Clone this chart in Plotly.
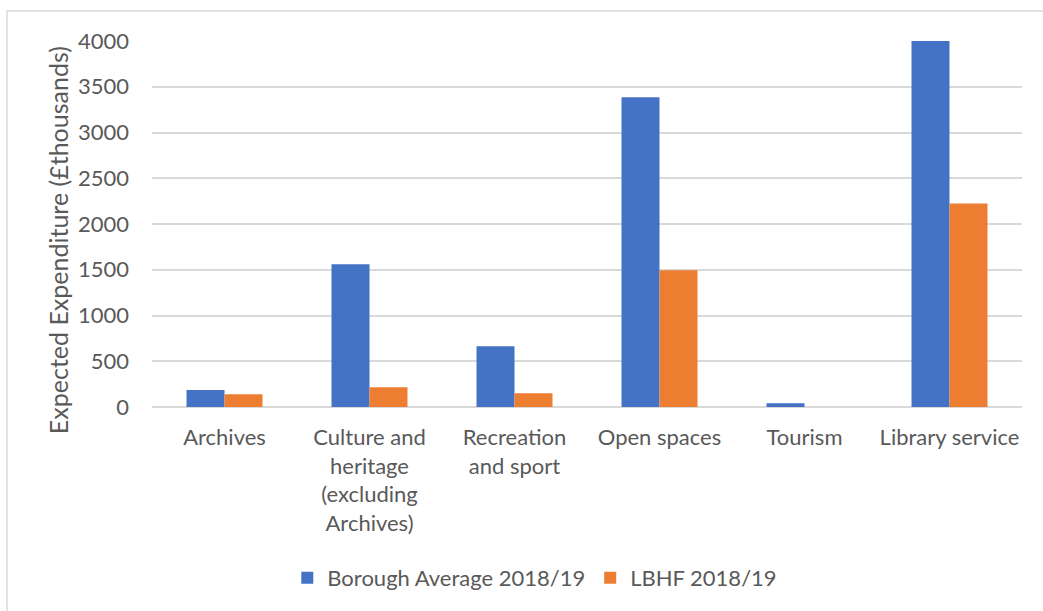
import plotly.graph_objects as go

categories = ["Archives", "Culture and<br>heritage<br>(excluding<br>Archives)", "Recreation<br>and sport",
              "Open spaces", "Tourism", "Library service"]
borough_avg = [185, 1560, 665, 3385, 40, 4010]
lbhf = [140, 215, 150, 1495, 0, 2225]
y_ticks = [0, 500, 1000, 1500, 2000, 2500, 3000, 3500, 4000]

FONT = "Lato"
TXT = "#595959"

fig = go.Figure()
fig.add_trace(go.Bar(x=categories, y=borough_avg, name="Borough Average 2018/19",
                     marker=dict(color="#4472C4", line=dict(width=0))))
fig.add_trace(go.Bar(x=categories, y=lbhf, name="LBHF 2018/19",
                     marker=dict(color="#ED7D31", line=dict(width=0))))

fig.update_layout(
    width=1043, height=611,
    margin=dict(l=152, r=21, t=41, b=204),
    paper_bgcolor="white", plot_bgcolor="white",
    barmode="group", bargap=0.476, bargroupgap=0,
    font=dict(family=FONT, size=22, color=TXT),
    showlegend=True,
    legend=dict(orientation="h", x=0.44, xanchor="center", y=-0.467, yanchor="middle",
                font=dict(size=22, color=TXT), itemwidth=30, traceorder="normal",
                bgcolor="rgba(0,0,0,0)"),
    xaxis=dict(showgrid=False, showline=False, ticks="", tickfont=dict(size=22, color=TXT),
               ticklabelstandoff=15),
    yaxis=dict(range=[0, 4000], tickvals=y_ticks, showgrid=True, gridcolor="#d9d9d9",
               gridwidth=1.5, zeroline=True, zerolinecolor="#d9d9d9", zerolinewidth=1.5,
               showline=False, ticks="", tickfont=dict(size=22, color=TXT), ticklabelstandoff=22),
    annotations=[dict(text="Expected Expenditure (£thousands)", textangle=-90,
                      xref="paper", yref="paper", x=-0.108, y=0.456,
                      xanchor="center", yanchor="middle", showarrow=False,
                      font=dict(size=25, color=TXT))],
    shapes=[dict(type="rect", xref="paper", yref="paper", x0=-0.1667, x1=1.2, y0=-0.8, y1=1.082,
                 line=dict(color="#d9d9d9", width=1.5), fillcolor="rgba(0,0,0,0)", layer="below")],
)

fig.write_html("out.html")
